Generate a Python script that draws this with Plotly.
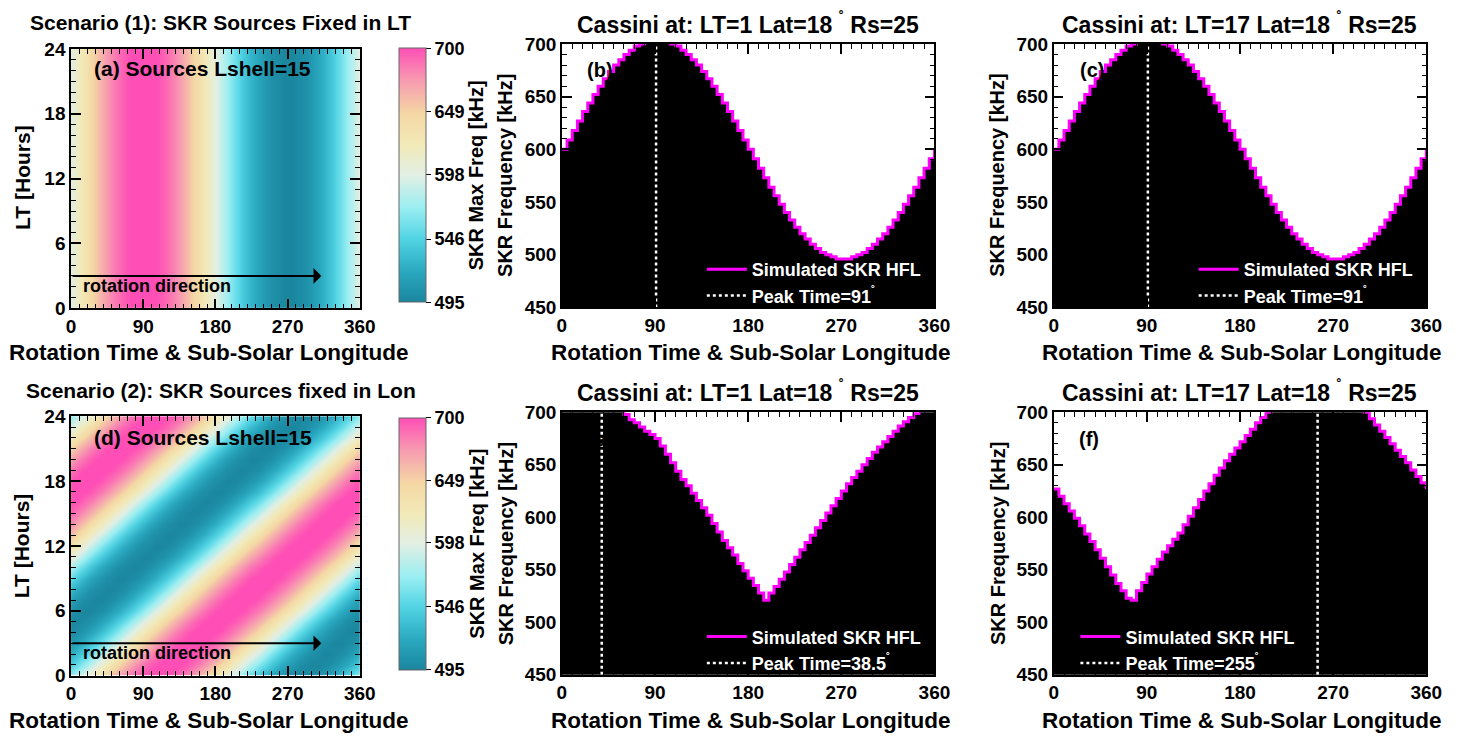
import numpy as np
import plotly.graph_objects as go

W, H = 1461, 746
FONT = "Liberation Sans, Arial, Helvetica, sans-serif"

# ---------------- data ----------------
lon = list(range(0, 365, 5))  # rotation time / sub-solar longitude (deg)

# Scenario 1 (sources fixed in LT): SKR HFL seen at LT=1 and LT=17 (identical)
freq_b = [600, 609, 618, 627, 636, 644, 652, 660, 667, 674, 680, 685, 690, 694, 698,
          700, 702, 704, 704, 704, 702, 700, 698, 694, 690, 685, 680, 674, 667, 660,
          652, 644, 636, 627, 618, 609, 600, 591, 582, 573, 564, 556, 548, 540, 533,
          526, 520, 515, 510, 506, 502, 500, 498, 496, 496, 496, 498, 500, 502, 506,
          510, 515, 520, 526, 533, 540, 548, 556, 564, 573, 582, 591, 600]
freq_c = list(freq_b)

# Scenario 2 (sources fixed in longitude): Cassini at LT=1
freq_e = [706, 709, 712, 714, 716, 717, 718, 718, 718, 716, 713, 706, 698, 693, 690,
          686, 682, 679, 675, 668, 660, 652, 644, 636, 630, 623, 616, 609, 602, 594,
          586, 578, 571, 564, 556, 549, 542, 535, 528, 521, 528, 534, 541, 548, 555,
          562, 569, 576, 583, 590, 597, 604, 611, 618, 625, 632, 638, 644, 650, 656,
          662, 667, 672, 677, 682, 687, 691, 695, 699, 702, 704, 705, 706]
# Scenario 2: Cassini at LT=17
freq_f = [627, 620, 613, 606, 599, 592, 584, 577, 569, 561, 553, 545, 537, 530, 523,
          521, 530, 538, 546, 553, 560, 567, 573, 579, 585, 593, 601, 609, 617, 625,
          632, 640, 647, 654, 660, 666, 672, 678, 684, 690, 695, 700, 705, 709, 713,
          716, 719, 721, 722, 723, 724, 724, 723, 722, 720, 718, 715, 712, 708, 704,
          700, 694, 688, 682, 676, 670, 664, 658, 652, 645, 639, 633, 627]

# Scenario 2 map: longitude of the emission maximum at each LT hour
lt_hours = list(range(25))
peak_lon_d = [108, 123, 138, 153, 168, 183, 198, 213, 228, 243, 258, 273, 288,
              303, 318, 333, 348, 3, 18, 33, 48, 63, 78, 93, 108]

peak_b, peak_c, peak_e, peak_f = 91, 91, 38.5, 255

x_ticks = [0, 90, 180, 270, 360]
lt_ticks = [0, 6, 12, 18, 24]
freq_ticks = [450, 500, 550, 600, 650, 700]
cbar_ticks = [495, 546, 598, 649, 700]
cbar_range = [495, 700]

# ---------------- derived grids ----------------
lon_arr = np.array(lon, float)
prof = np.array(freq_b, float)
z_a = [freq_b, freq_b]
y_a = [0, 24]
z_d = []
for pk in peak_lon_d:
    src = (lon_arr - (pk - 90)) % 360
    z_d.append(np.interp(src, lon_arr, prof).tolist())

cscale = [
    [0.00, "#1a869e"],
    [0.12, "#2aa9c0"],
    [0.25, "#52d4e4"],
    [0.37, "#9aeef2"],
    [0.50, "#e2efe4"],
    [0.62, "#f2eab8"],
    [0.74, "#f4d8a4"],
    [0.87, "#f79cb0"],
    [1.00, "#ff4fb6"],
]

# ---------------- layout helpers ----------------
def fx(p):
    return p / W

def fy(p):
    return 1 - p / H

panels = {
    # name: (x0, x1, ytop, ybot) in pixels
    "a": (67, 360, 40, 307),
    "b": (565, 943, 35, 306),
    "c": (1064, 1442, 35, 306),
    "d": (67, 360, 418, 685),
    "e": (565, 943, 414, 684),
    "f": (1064, 1442, 414, 684),
}
axis_ids = {"a": "", "b": "2", "c": "3", "d": "4", "e": "5", "f": "6"}

fig = go.Figure()

tickfont = dict(family=FONT, size=19, color="black", weight="bold")

def axis_style(**kw):
    d = dict(showline=True, linecolor="black", linewidth=1.5, mirror="ticks",
             ticks="inside", ticklen=10, tickwidth=1.5, tickcolor="black",
             showgrid=False, zeroline=False, layer="above traces",
             tickfont=tickfont, fixedrange=True)
    d.update(kw)
    return d

layout_axes = {}
for name, (x0, x1, yt, yb) in panels.items():
    i = axis_ids[name]
    xa = "xaxis" + i
    ya = "yaxis" + i
    layout_axes[xa] = axis_style(
        domain=[fx(x0), fx(x1)], anchor="y" + i, range=[0, 360],
        tickvals=x_ticks,
        minor=dict(ticks="inside", ticklen=5, dtick=10, tick0=0, tickcolor="black", tickwidth=1))
    if name in ("a", "d"):
        layout_axes[ya] = axis_style(
            domain=[fy(yb), fy(yt)], anchor="x" + i, range=[0, 24],
            tickvals=lt_ticks,
            minor=dict(ticks="inside", ticklen=5, dtick=1, tick0=0, tickcolor="black", tickwidth=1))
    else:
        layout_axes[ya] = axis_style(
            domain=[fy(yb), fy(yt)], anchor="x" + i, range=[450, 700],
            tickvals=freq_ticks,
            minor=dict(ticks="inside", ticklen=5, dtick=10, tick0=450, tickcolor="black", tickwidth=1))

# ---------------- heatmaps ----------------
def cbar(yt, yb):
    return dict(x=fx(390), xanchor="left", y=fy((yt + yb) / 2), yanchor="middle",
                len=yb - yt, lenmode="pixels", thickness=27, thicknessmode="pixels",
                tickvals=cbar_ticks, ticks="outside", ticklen=5, tickcolor="black",
                outlinewidth=1, outlinecolor="#666",
                tickfont=dict(family=FONT, size=18, color="black", weight="bold"))

fig.add_trace(go.Heatmap(x=lon, y=y_a, z=z_a, zmin=cbar_range[0], zmax=cbar_range[1],
                         colorscale=cscale, zsmooth="best", xaxis="x", yaxis="y",
                         colorbar=cbar(33, 307), hoverinfo="skip"))
fig.add_trace(go.Heatmap(x=lon, y=lt_hours, z=z_d, zmin=cbar_range[0], zmax=cbar_range[1],
                         colorscale=cscale, zsmooth="best", xaxis="x4", yaxis="y4",
                         colorbar=cbar(413, 685), hoverinfo="skip"))

# ---------------- SKR frequency panels ----------------
legend_defs = {}
line_panels = [("b", freq_b, peak_b, "91", "legend2", 142),
               ("c", freq_c, peak_c, "91", "legend3", 142),
               ("e", freq_e, peak_e, "38.5", "legend4", 142),
               ("f", freq_f, peak_f, "255", "legend5", 22)]
for name, fr, pk, pk_txt, lg, loff in line_panels:
    i = axis_ids[name]
    fig.add_trace(go.Scatter(x=lon, y=fr, mode="lines", line=dict(shape="hv", width=0, color="black"),
                             fill="tozeroy", fillcolor="black", showlegend=False,
                             xaxis="x" + i, yaxis="y" + i, hoverinfo="skip"))
    fig.add_trace(go.Scatter(x=lon, y=fr, mode="lines", line=dict(shape="hv", width=3, color="#ff00ff"),
                             name="Simulated SKR HFL", legend=lg,
                             xaxis="x" + i, yaxis="y" + i))
    fig.add_trace(go.Scatter(x=[pk, pk], y=[450, 700], mode="lines",
                             line=dict(color="white", width=2.5, dash="dot"),
                             name="Peak Time=" + pk_txt + "<sup>˚</sup>", legend=lg,
                             xaxis="x" + i, yaxis="y" + i))
    x0, x1, yt, yb = panels[name]
    legend_defs[lg] = dict(x=fx(x0 + loff), xanchor="left", y=fy(yb - 58), yanchor="top",
                           bgcolor="rgba(0,0,0,0)", borderwidth=0, itemwidth=40,
                           font=dict(family=FONT, size=18, color="white", weight="bold"),
                           tracegroupgap=0, traceorder="normal", itemclick=False)

# ---------------- annotations ----------------
ann = []

def text(x, y, s, size, xanchor="center", yanchor="middle", angle=0, color="black", xref="paper", yref="paper"):
    ann.append(dict(x=x, y=y, xref=xref, yref=yref, text=s, showarrow=False,
                    xanchor=xanchor, yanchor=yanchor, textangle=angle,
                    font=dict(family=FONT, size=size, color=color, weight="bold")))

deg = " <sup>˚</sup>"
for row, dy in ((0, 0), (1, 379)):
    scen = ("Scenario (1): SKR Sources Fixed in LT" if row == 0
            else "Scenario (2): SKR Sources fixed in Lon")
    text(fx(219), fy(13 + dy), scen, 21)
    text(fx(754), fy(13 + dy), "Cassini at: LT=1 Lat=18" + deg + " Rs=25", 23)
    text(fx(1253), fy(13 + dy), "Cassini at: LT=17 Lat=18" + deg + " Rs=25", 23)
    for cx in (207, 757, 1255):
        text(fx(cx), fy(352 + dy), "Rotation Time &amp; Sub-Solar Longitude", 22.5)
    text(fx(17), fy(172 + dy), "LT [Hours]", 21, angle=-90)
    text(fx(478), fy(170 + dy), "SKR Max Freq [kHz]", 20, angle=-90)
    text(fx(508), fy(170 + dy), "SKR Frequency [kHz]", 20, angle=-90)
    text(fx(1007), fy(170 + dy), "SKR Frequency [kHz]", 20, angle=-90)

text(fx(88), fy(60), "(a) Sources Lshell=15", 21, xanchor="left")
text(fx(88), fy(440), "(d) Sources Lshell=15", 21, xanchor="left")
text(fx(604), fy(62), "(b)", 20)
text(fx(1103), fy(62), "(c)", 20)
text(fx(604), fy(441), "(e)", 20)
text(fx(1100), fy(441), "(f)", 20)

for i in ("", "4"):
    ann.append(dict(x=312, y=3, ax=0, ay=3, xref="x" + i, yref="y" + i, axref="x" + i, ayref="y" + i,
                    text="", showarrow=True, arrowhead=1, arrowsize=1.3, arrowwidth=2, arrowcolor="black"))
    ann.append(dict(x=12, y=2.1, xref="x" + i, yref="y" + i, text="rotation direction", showarrow=False,
                    xanchor="left", yanchor="middle",
                    font=dict(family=FONT, size=18, color="black", weight="bold")))

fig.update_layout(
    width=W, height=H, margin=dict(l=0, r=0, t=0, b=0),
    paper_bgcolor="white", plot_bgcolor="white",
    font=dict(family=FONT, color="black"),
    annotations=ann,
    **layout_axes,
    **legend_defs,
)

fig.write_html("out.html")
